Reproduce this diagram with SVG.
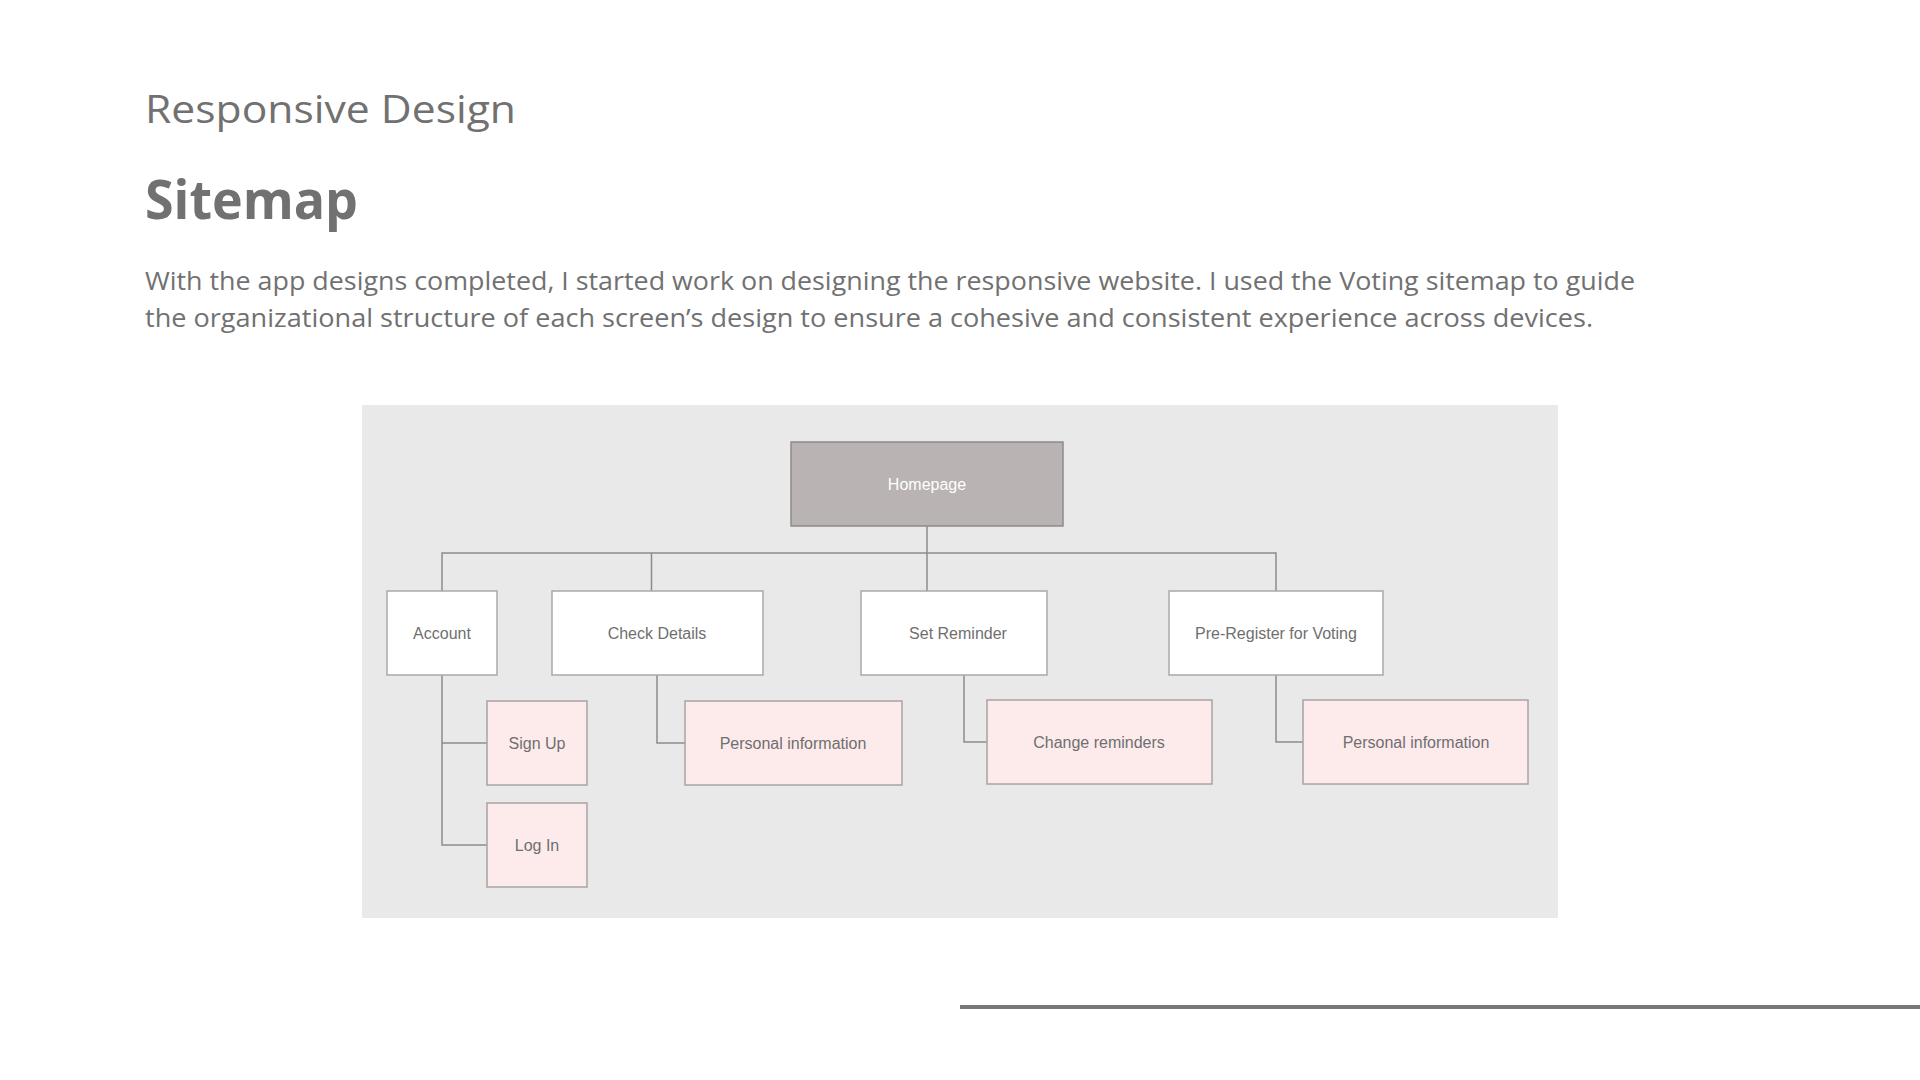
<svg xmlns="http://www.w3.org/2000/svg" width="1920" height="1080" viewBox="0 0 1920 1080">
<style>
.h{font-family:"Open Sans","Noto Sans",sans-serif;fill:#717171}
.n{font-family:"Liberation Sans",Arial,sans-serif;font-size:16px;fill:#6f6f6f;text-anchor:middle}
.wb{fill:#ffffff;stroke:#a9a9a9;stroke-width:1.5}
.pb{fill:#fdebec;stroke:#a9a3a4;stroke-width:1.5}
.c{fill:none;stroke:#8c8c8c;stroke-width:1.5}
</style>
<rect width="1920" height="1080" fill="#ffffff"/>
<text class="h" x="145" y="123" font-size="39" textLength="371" lengthAdjust="spacingAndGlyphs">Responsive Design</text>
<text class="h" x="145" y="219" font-size="53" font-weight="700" textLength="213" lengthAdjust="spacingAndGlyphs">Sitemap</text>
<text class="h" x="145" y="290" font-size="25" textLength="1490" lengthAdjust="spacingAndGlyphs">With the app designs completed, I started work on designing the responsive website. I used the Voting sitemap to guide</text>
<text class="h" x="145" y="327" font-size="25" textLength="1448" lengthAdjust="spacingAndGlyphs">the organizational structure of each screen’s design to ensure a cohesive and consistent experience across devices.</text>
<rect x="362" y="405" width="1196" height="513" fill="#e9e9e9"/>
<g id="connectors">
<path class="c" d="M927 526V591M442 591V553H1276V591M651.5 553V591"/>
<path class="c" d="M442 675V845H487M442 743H487"/>
<path class="c" d="M657 675V743H685"/>
<path class="c" d="M964 675V742H987"/>
<path class="c" d="M1276 675V742H1303"/>
</g>
<g id="homepage">
<rect x="791" y="442" width="272" height="84" fill="#b9b3b3" stroke="#8f8a8a" stroke-width="1.5"/>
<text class="n" x="927" y="490" style="fill:#ffffff">Homepage</text>
</g>
<g id="account">
<rect class="wb" x="387" y="591" width="110" height="84"/>
<text class="n" x="442" y="639">Account</text>
</g>
<g id="check-details">
<rect class="wb" x="552" y="591" width="211" height="84"/>
<text class="n" x="657" y="639">Check Details</text>
</g>
<g id="set-reminder">
<rect class="wb" x="861" y="591" width="186" height="84"/>
<text class="n" x="958" y="639">Set Reminder</text>
</g>
<g id="pre-register">
<rect class="wb" x="1169" y="591" width="214" height="84"/>
<text class="n" x="1276" y="639">Pre-Register for Voting</text>
</g>
<g id="sign-up">
<rect class="pb" x="487" y="701" width="100" height="84"/>
<text class="n" x="537" y="749">Sign Up</text>
</g>
<g id="log-in">
<rect class="pb" x="487" y="803" width="100" height="84"/>
<text class="n" x="537" y="851">Log In</text>
</g>
<g id="personal-info-1">
<rect class="pb" x="685" y="701" width="217" height="84"/>
<text class="n" x="793" y="749">Personal information</text>
</g>
<g id="change-reminders">
<rect class="pb" x="987" y="700" width="225" height="84"/>
<text class="n" x="1099" y="748">Change reminders</text>
</g>
<g id="personal-info-2">
<rect class="pb" x="1303" y="700" width="225" height="84"/>
<text class="n" x="1416" y="748">Personal information</text>
</g>
<rect x="960" y="1005" width="960" height="4" fill="#777777"/>
</svg>
